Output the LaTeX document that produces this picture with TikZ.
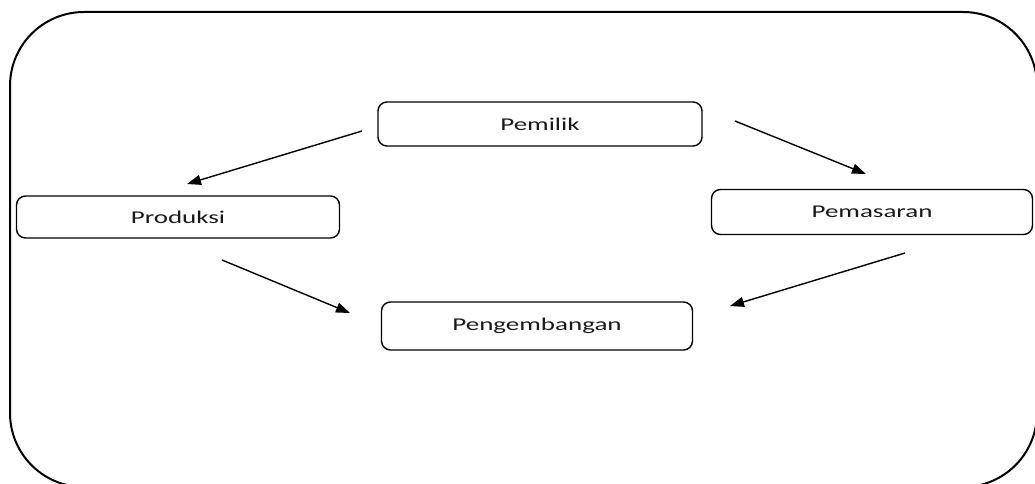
\documentclass[tikz,border=0pt]{standalone}
\usepackage{fontspec}
\setmainfont{Carlito}[FakeStretch=1.5]
\usetikzlibrary{arrows.meta}
\begin{document}
\begin{tikzpicture}[x=1pt,y=-1pt,
  box/.style={draw=black, line width=1.4pt, rounded corners=9pt, minimum height=44pt, inner sep=0pt, font=\fontsize{18}{21}\selectfont, text=black!90},
  arr/.style={line width=1.4pt, -{Triangle[length=14pt,width=10pt]}}]
\useasboundingbox (0,0) rectangle (1035,484);
\clip (0,0) rectangle (1035,484);
\draw[line width=2pt, rounded corners=74pt] (10,12) rectangle (1037,487);
\node[box, minimum width=324pt] (pemilik) at (540,124) {Pemilik};
\node[box, minimum width=323pt, minimum height=42pt] (produksi) at (178,217) {Produksi};
\node[box, minimum width=321pt, minimum height=45pt] (pemasaran) at (872,212) {Pemasaran};
\node[box, minimum width=311pt, minimum height=48pt] (pengembangan) at (537,326) {Pengembangan};
\coordinate (a1s) at (362,131); \coordinate (a1e) at (187,184);
\coordinate (a2s) at (735,121); \coordinate (a2e) at (866,174);
\coordinate (a3s) at (222,260); \coordinate (a3e) at (350,313);
\coordinate (a4s) at (905,253); \coordinate (a4e) at (730,306);
\draw[arr] (a1s) -- (a1e);
\draw[arr] (a2s) -- (a2e);
\draw[arr] (a3s) -- (a3e);
\draw[arr] (a4s) -- (a4e);
\end{tikzpicture}
\end{document}
